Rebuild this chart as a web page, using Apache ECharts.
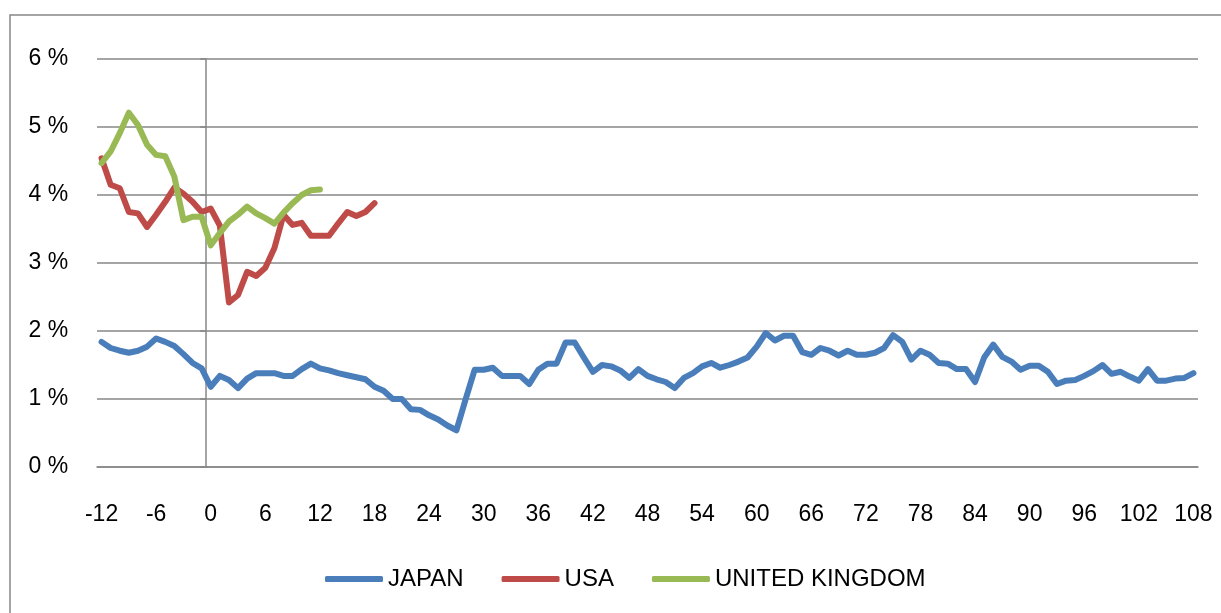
<!DOCTYPE html>
<html>
<head>
<meta charset="utf-8">
<script src="https://cdn.jsdelivr.net/npm/echarts@6/dist/echarts.min.js"></script>
<style>
  html, body { margin: 0; padding: 0; background: #fff; }
  #chart { width: 1221px; height: 613px; }
</style>
</head>
<body>
<div id="chart"></div>
<script>
// months relative to the event (category axis)
const months = [];
for (let m = -12; m <= 108; m++) months.push(String(m));

const japan = [
  1.84, 1.75, 1.71, 1.68, 1.71, 1.77, 1.89, 1.84, 1.78, 1.66, 1.53, 1.45,
  1.18, 1.34, 1.28, 1.16, 1.30, 1.38, 1.38, 1.38, 1.34, 1.34, 1.44, 1.52,
  1.45, 1.42, 1.38, 1.35, 1.32, 1.29, 1.18, 1.12, 1.00, 1.00, 0.85, 0.84,
  0.76, 0.70, 0.61, 0.54, 0.99, 1.43, 1.43, 1.46, 1.34, 1.34, 1.34, 1.22,
  1.43, 1.52, 1.52, 1.83, 1.83, 1.61, 1.40, 1.50, 1.48, 1.42, 1.31, 1.44,
  1.34, 1.29, 1.25, 1.16, 1.31, 1.38, 1.48, 1.53, 1.46, 1.50, 1.55, 1.61,
  1.77, 1.97, 1.86, 1.93, 1.93, 1.69, 1.65, 1.75, 1.71, 1.64, 1.71, 1.65,
  1.65, 1.68, 1.75, 1.94, 1.84, 1.58, 1.71, 1.65, 1.53, 1.52, 1.44, 1.44,
  1.25, 1.61, 1.80, 1.62, 1.55, 1.43, 1.49, 1.49, 1.40, 1.22, 1.27, 1.28,
  1.34, 1.41, 1.50, 1.37, 1.40, 1.33, 1.27, 1.44, 1.27, 1.27, 1.30, 1.31,
  1.38
];

const usa = [
  4.54, 4.15, 4.10, 3.75, 3.73, 3.53, 3.71, 3.90, 4.11, 4.02, 3.90, 3.75,
  3.80, 3.55, 2.42, 2.53, 2.87, 2.81, 2.93, 3.22, 3.71, 3.56, 3.59, 3.40,
  3.40, 3.40, 3.58, 3.75, 3.69, 3.75, 3.88
];

const uk = [
  4.47, 4.64, 4.91, 5.21, 5.03, 4.74, 4.59, 4.57, 4.27, 3.63, 3.68, 3.68,
  3.26, 3.44, 3.61, 3.71, 3.83, 3.73, 3.66, 3.58, 3.74, 3.88, 4.00, 4.07,
  4.08
];

const yTicks = [0, 1, 2, 3, 4, 5, 6];

const gridLeft = 97, gridRight = 23;
const gridWidth = 1221 - gridLeft - gridRight;
// value axis crosses at the start of category "0"
const crossOffset = -(months.indexOf('0') / months.length) * gridWidth;

const gray = '#878787';
const font = 'Liberation Sans, Arial, sans-serif';

const chart = echarts.init(document.getElementById('chart'));

function lineSeries(name, data, color) {
  return {
    name: name,
    type: 'line',
    data: data,
    symbol: 'none',
    smooth: false,
    lineStyle: { color: color, width: 6, join: 'round', cap: 'round' },
    itemStyle: { color: color },
    emphasis: { disabled: true }
  };
}

chart.setOption({
  animation: false,
  backgroundColor: '#fff',
  graphic: [{
    type: 'rect',
    shape: { x: 10, y: 15, width: 1300, height: 700 },
    style: { fill: 'none', stroke: gray, lineWidth: 1.5 },
    silent: true
  }],
  grid: { left: gridLeft, right: gridRight, top: 59, bottom: 146 },
  legend: {
    left: 320,
    top: 562,
    icon: 'roundRect',
    itemWidth: 58,
    itemHeight: 6,
    itemGap: 38,
    textStyle: { fontFamily: font, fontSize: 24, color: '#000' },
    data: ['JAPAN', 'USA', 'UNITED KINGDOM']
  },
  xAxis: {
    type: 'category',
    data: months,
    boundaryGap: true,
    axisLine: { lineStyle: { color: gray, width: 1.5 } },
    axisTick: { interval: 11, length: 6, lineStyle: { color: gray, width: 1.5 } },
    axisLabel: {
      interval: 5,
      margin: 36,
      fontFamily: font,
      fontSize: 23,
      color: '#000'
    },
    splitLine: { show: false }
  },
  yAxis: {
    type: 'value',
    min: yTicks[0],
    max: yTicks[yTicks.length - 1],
    interval: 1,
    offset: crossOffset,
    axisLine: { show: true, lineStyle: { color: gray, width: 1.5 } },
    axisTick: { show: true, length: 6, lineStyle: { color: gray, width: 1.5 } },
    axisLabel: {
      margin: 138,
      fontFamily: font,
      fontSize: 23,
      color: '#000',
      formatter: (v) => v + ' %'
    },
    splitLine: { show: true, lineStyle: { color: gray, width: 1.5 } }
  },
  series: [
    lineSeries('JAPAN', japan, '#4a7ebb'),
    lineSeries('USA', usa, '#be4b48'),
    lineSeries('UNITED KINGDOM', uk, '#98b954')
  ]
});
</script>
</body>
</html>
